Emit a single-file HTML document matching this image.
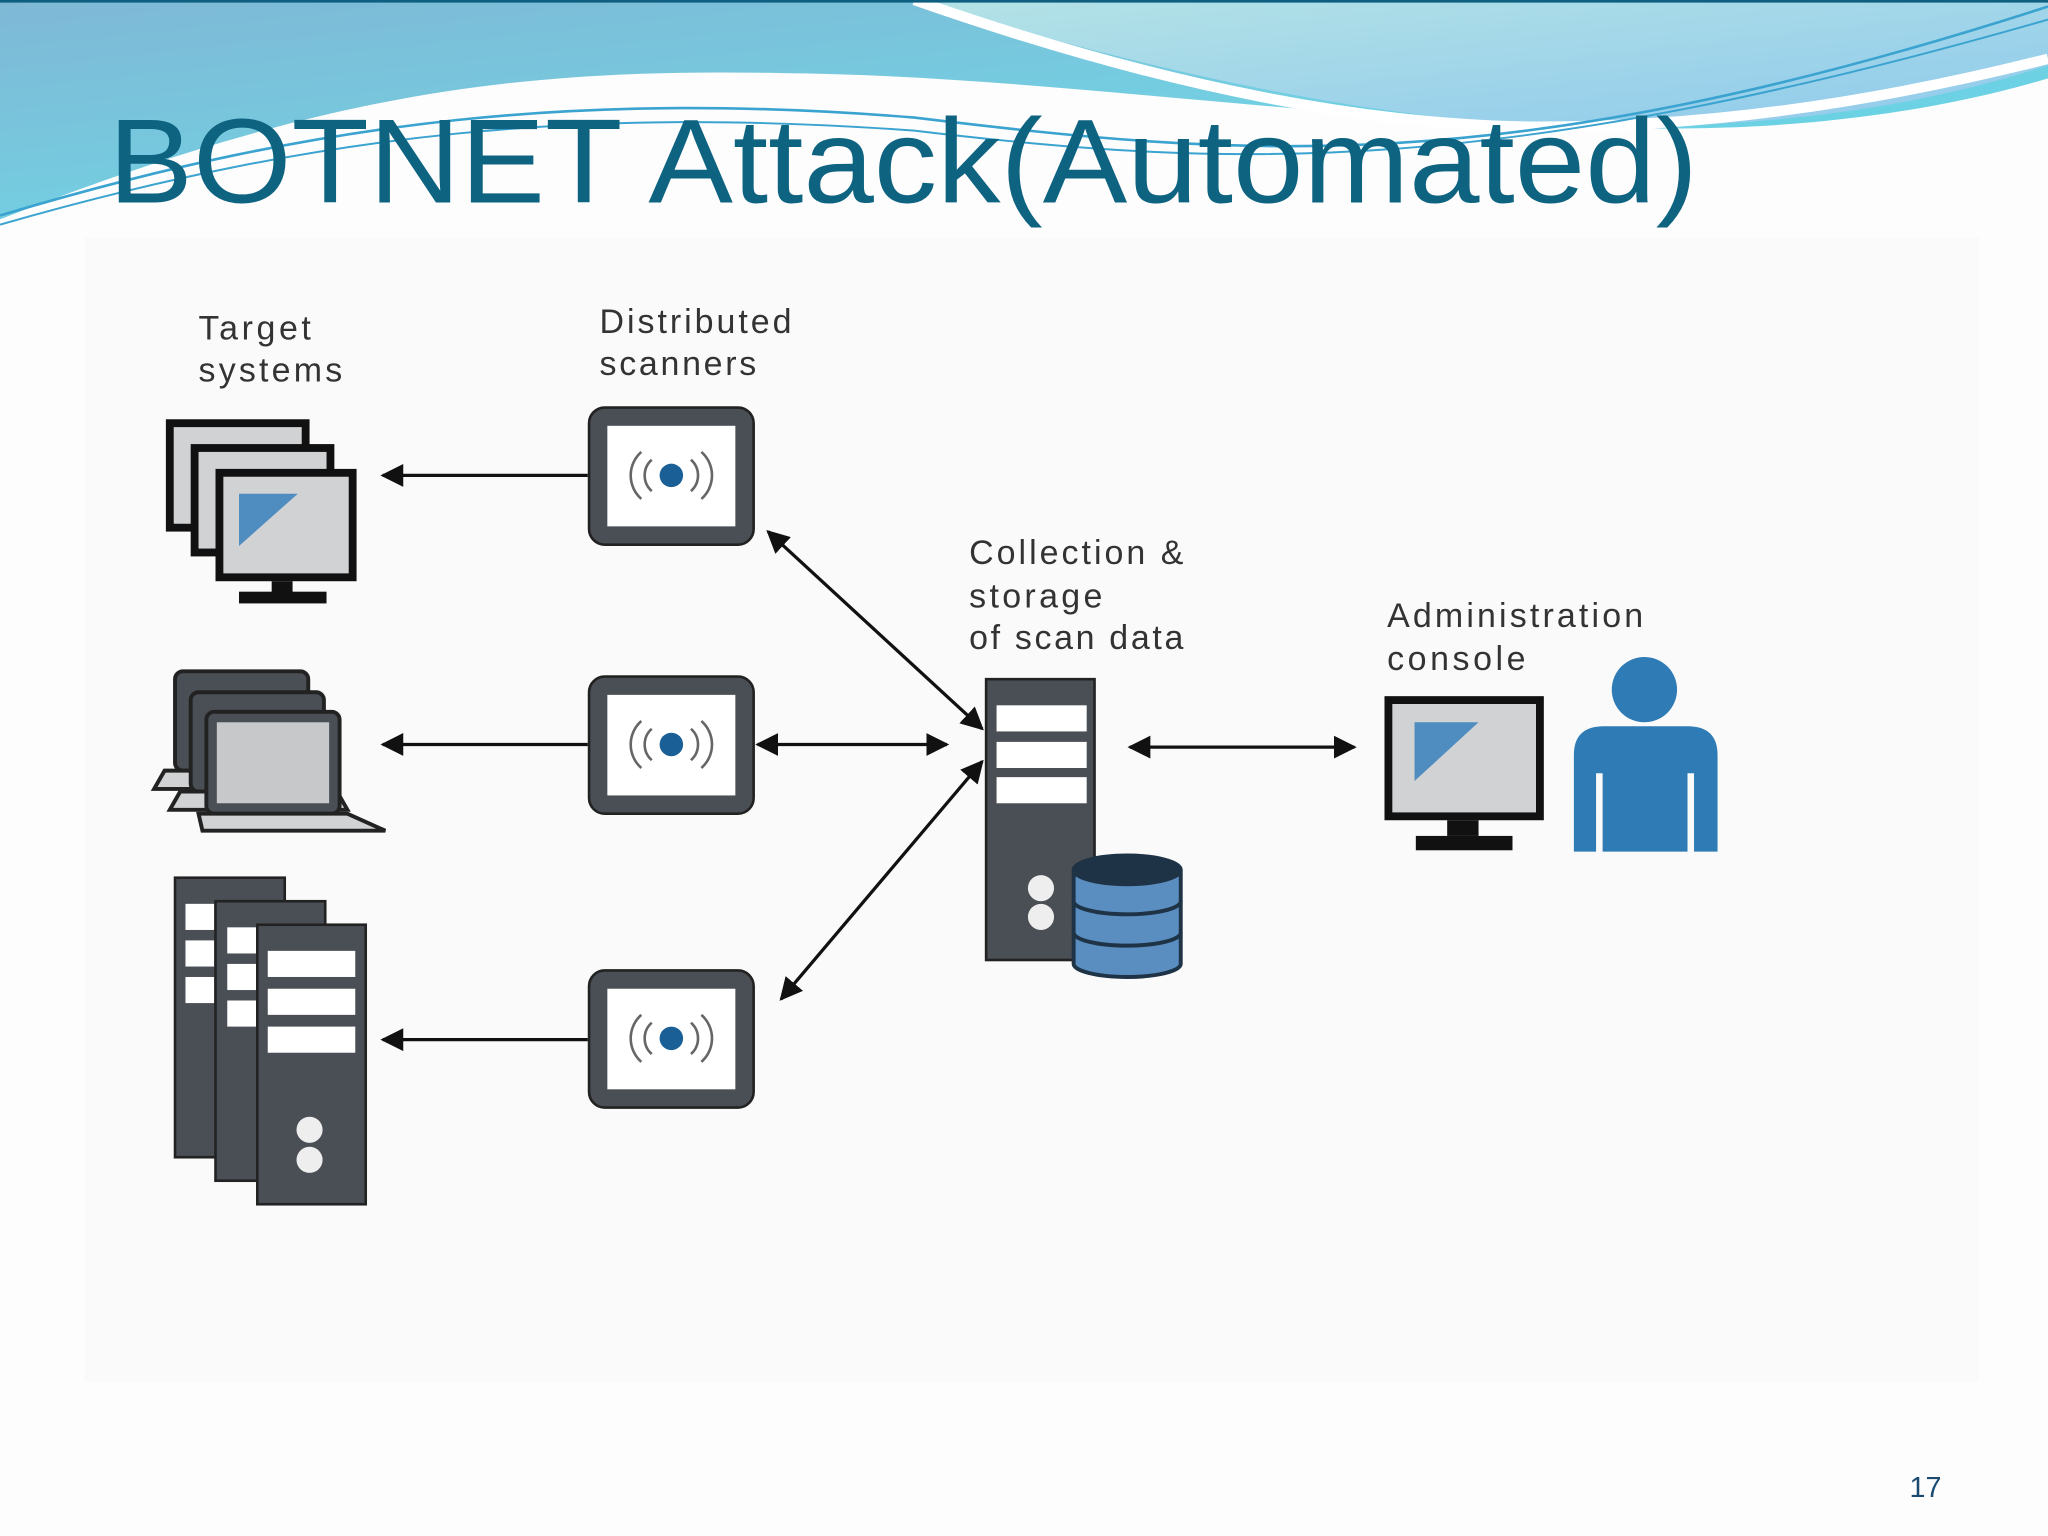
<!DOCTYPE html>
<html><head><meta charset="utf-8"><style>
html,body{margin:0;padding:0;background:#fff}
svg{display:block}
</style></head><body>
<svg width="2048" height="1536" viewBox="0 0 1568 1176" xmlns="http://www.w3.org/2000/svg" font-family="Liberation Sans, sans-serif">
<defs>
<linearGradient id="bg1" x1="0" y1="0" x2="1" y2="1"><stop offset="0" stop-color="#7fb8d6"/><stop offset="0.5" stop-color="#74cde0"/><stop offset="1" stop-color="#5fd8ea"/></linearGradient>
<linearGradient id="bg2" x1="0" y1="0" x2="1" y2="1"><stop offset="0" stop-color="#b4e3e6"/><stop offset="1" stop-color="#8fc9ec"/></linearGradient>
<marker id="ah" viewBox="0 0 10 10" refX="9" refY="5" markerWidth="7" markerHeight="7" orient="auto-start-reverse"><path d="M0,0 L10,5 L0,10 z" fill="#111"/></marker>
</defs>
<rect width="1568" height="1176" fill="#fdfdfd"/>
<!-- header waves -->
<path d="M0,0 H1568 V60 C1450,95 1330,100 1250,98 C1000,92 800,58 600,56 C400,52 250,70 0,168 Z" fill="url(#bg1)"/>
<path d="M700,0 H1568 V50 C1460,85 1350,98 1200,98 C1050,90 900,60 700,0 Z" fill="url(#bg2)"/>
<path d="M700,0 C900,70 1050,95 1170,97 C1300,98 1430,80 1568,45" fill="none" stroke="#fff" stroke-width="8"/>
<path d="M0,165 C250,90 450,70 700,90 C950,120 1150,140 1568,5" fill="none" stroke="#3aa3d0" stroke-width="2"/>
<path d="M0,172 C250,100 450,82 700,100 C950,130 1150,135 1568,15" fill="none" stroke="#3aa3d0" stroke-width="1.5"/>
<rect x="0" y="0" width="1568" height="2" fill="#0f5f80"/>
<text x="83" y="155" font-size="92" fill="#0e6380" textLength="1217" lengthAdjust="spacingAndGlyphs">BOTNET Attack(Automated)</text>
<rect x="65" y="182" width="1450" height="876" fill="#fafafa"/>
<!-- labels -->
<g font-size="26" fill="#333" lengthAdjust="spacingAndGlyphs">
<text x="152" y="260" textLength="86">Target</text><text x="152" y="292" textLength="110">systems</text>
<text x="459" y="255" textLength="147">Distributed</text><text x="459" y="287" textLength="120">scanners</text>
<text x="742" y="432" textLength="164">Collection &amp;</text><text x="742" y="465" textLength="102">storage</text><text x="742" y="497" textLength="164">of scan data</text>
<text x="1062" y="480" textLength="196">Administration</text><text x="1062" y="513" textLength="106">console</text>
</g>
<!-- target monitors -->
<g>
<rect x="130" y="324" width="104" height="80" fill="#d0d2d4" stroke="#111" stroke-width="6"/>
<rect x="149" y="343" width="104" height="80" fill="#d0d2d4" stroke="#111" stroke-width="6"/>
<rect x="168" y="362" width="102" height="80" fill="#d0d2d4" stroke="#111" stroke-width="6"/>
<path d="M183,378 L228,378 L183,418 Z" fill="#4f8cc0"/>
<rect x="208" y="445" width="16" height="10" fill="#111"/>
<rect x="183" y="453" width="67" height="9" fill="#111"/>
</g>
<!-- laptops -->
<g stroke="#222" stroke-width="3">
<rect x="134" y="514" width="102" height="76" rx="6" fill="#4a4f55"/>
<path d="M126,590 L246,590 L254,604 L118,604 Z" fill="#d0d2d4"/>
<rect x="146" y="530" width="102" height="76" rx="6" fill="#4a4f55"/>
<path d="M138,606 L258,606 L266,620 L130,620 Z" fill="#d0d2d4"/>
<rect x="158" y="545" width="102" height="78" rx="6" fill="#4a4f55"/>
<rect x="166" y="553" width="86" height="62" fill="#c6c8ca" stroke="none"/>
<path d="M152,623 L266,623 L295,636 L155,636 Z" fill="#d0d2d4"/>
</g>
<!-- servers stack -->
<g>
<rect x="134" y="672" width="84" height="214" fill="#4a4f55" stroke="#222" stroke-width="2"/>
<rect x="142" y="692" width="22" height="20" fill="#fff"/><rect x="142" y="720" width="22" height="20" fill="#fff"/><rect x="142" y="748" width="22" height="20" fill="#fff"/>
<rect x="165" y="690" width="84" height="214" fill="#4a4f55" stroke="#222" stroke-width="2"/>
<rect x="174" y="710" width="22" height="20" fill="#fff"/><rect x="174" y="738" width="22" height="20" fill="#fff"/><rect x="174" y="766" width="22" height="20" fill="#fff"/>
<rect x="197" y="708" width="83" height="214" fill="#4a4f55" stroke="#222" stroke-width="2"/>
<rect x="205" y="728" width="67" height="20" fill="#fff"/><rect x="205" y="757" width="67" height="20" fill="#fff"/><rect x="205" y="786" width="67" height="20" fill="#fff"/>
<circle cx="237" cy="865" r="10" fill="#eee"/><circle cx="237" cy="888" r="10" fill="#eee"/>
</g>
<!-- scanners -->
<g id="sc">
<rect x="451" y="312" width="126" height="105" rx="12" fill="#4a4f55" stroke="#222" stroke-width="2"/>
<rect x="465" y="326" width="98" height="77" fill="#fff"/>
<circle cx="514" cy="364" r="9" fill="#1a5f96"/>
<path d="M499,352 A16,16 0 0 0 499,376 M491,346 A24,24 0 0 0 491,382 M529,352 A16,16 0 0 1 529,376 M537,346 A24,24 0 0 1 537,382" fill="none" stroke="#666" stroke-width="2"/>
</g>
<use href="#sc" y="206"/>
<use href="#sc" y="431"/>
<!-- arrows -->
<g stroke="#111" stroke-width="2.5" fill="none">
<line x1="450" y1="364" x2="293" y2="364" marker-end="url(#ah)"/>
<line x1="450" y1="570" x2="293" y2="570" marker-end="url(#ah)"/>
<line x1="450" y1="796" x2="293" y2="796" marker-end="url(#ah)"/>
<line x1="588" y1="407" x2="752" y2="558" marker-start="url(#ah)" marker-end="url(#ah)"/>
<line x1="580" y1="570" x2="725" y2="570" marker-start="url(#ah)" marker-end="url(#ah)"/>
<line x1="598" y1="765" x2="752" y2="583" marker-start="url(#ah)" marker-end="url(#ah)"/>
<line x1="865" y1="572" x2="1037" y2="572" marker-start="url(#ah)" marker-end="url(#ah)"/>
</g>
<!-- central server -->
<rect x="755" y="520" width="83" height="215" fill="#4a4f55" stroke="#222" stroke-width="2"/>
<rect x="763" y="540" width="69" height="20" fill="#fff"/><rect x="763" y="568" width="69" height="20" fill="#fff"/><rect x="763" y="595" width="69" height="20" fill="#fff"/>
<circle cx="797" cy="680" r="10" fill="#eee"/><circle cx="797" cy="702" r="10" fill="#eee"/>
<!-- database -->
<g stroke="#1f3346" stroke-width="3">
<path d="M822,666 V738 A41,10 0 0 0 904,738 V666" fill="#5a8ec0"/>
<ellipse cx="863" cy="666" rx="41" ry="11" fill="#1f3346"/>
<path d="M822,690 A41,10 0 0 0 904,690 M822,714 A41,10 0 0 0 904,714" fill="none"/>
</g>
<!-- admin monitor -->
<rect x="1063" y="536" width="116" height="89" fill="#d0d2d4" stroke="#111" stroke-width="6"/>
<path d="M1083,553 L1132,553 L1083,598 Z" fill="#4f8cc0"/>
<rect x="1108" y="628" width="24" height="12" fill="#111"/>
<rect x="1084" y="640" width="74" height="11" fill="#111"/>
<!-- person -->
<circle cx="1259" cy="528" r="25" fill="#2e7bb5"/>
<path d="M1205,652 V578 Q1205,556 1228,556 H1292 Q1315,556 1315,578 V652 H1297 V592 H1292 V652 H1227 V592 H1222 V652 Z" fill="#2e7bb5"/>
<text x="1462" y="1146" font-size="22" fill="#1a4a70">17</text>
</svg>
</body></html>
